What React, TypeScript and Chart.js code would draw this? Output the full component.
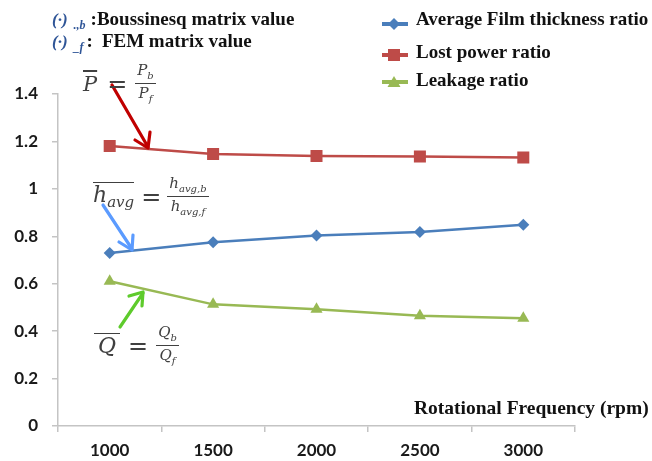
import React, { useEffect, useRef } from "react";
import { Chart, registerables } from "chart.js";

Chart.register(...registerables);

const rpmLabels = ["1000", "1500", "2000", "2500", "3000"];
const filmThicknessRatio = [0.73, 0.775, 0.803, 0.818, 0.849];
const lostPowerRatio = [1.181, 1.147, 1.139, 1.136, 1.132];
const leakageRatio = [0.61, 0.513, 0.492, 0.465, 0.454];
const seriesNames = ["Average Film thickness ratio", "Lost power ratio", "Leakage ratio"];
const seriesColors = ["#4a7ebb", "#be4b48", "#98b954"];
const yMin = 0;
const yMax = 1.4;
const yStep = 0.2;
const xAxisTitle = "Rotational Frequency (rpm)";

const serif = "'Liberation Serif', 'Times New Roman', serif";
const mathFont = "'DejaVu Serif', 'Liberation Serif', serif";

function Frac({ num, den, size = 12 }: { num: React.ReactNode; den: React.ReactNode; size?: number }) {
  return (
    <span style={{ display: "inline-flex", flexDirection: "column", alignItems: "center", fontSize: size, lineHeight: 1.0, verticalAlign: "middle" }}>
      <span style={{ padding: "0 2px 2px" }}>{num}</span>
      <span style={{ borderTop: "1.8px solid #404040", padding: "2px 2px 0", alignSelf: "stretch", textAlign: "center" }}>{den}</span>
    </span>
  );
}

function LegendSymbol({ color, shape }: { color: string; shape: string }) {
  let marker: React.ReactNode = null;
  if (shape === "rectRot") marker = <polygon points="13,1 19,7 13,13 7,7" fill={color} />;
  else if (shape === "rect") marker = <rect x={7} y={1} width={12} height={12} fill={color} />;
  else marker = <polygon points="13,1 19.5,12 6.5,12" fill={color} />;
  return (
    <svg width={28} height={14} style={{ display: "block" }}>
      <line x1={1} y1={7} x2={27} y2={7} stroke={color} strokeWidth={4} />
      {marker}
    </svg>
  );
}

export default function App() {
  const canvasRef = useRef<HTMLCanvasElement | null>(null);

  useEffect(() => {
    if (!canvasRef.current) return;
    const axisColor = "#c4c4c4";
    const tickFont = { family: "Lato, 'Open Sans', sans-serif", weight: "bold" as const, size: 17 };
    const chart = new Chart(canvasRef.current, {
      type: "line",
      data: {
        labels: rpmLabels,
        datasets: [
          {
            label: seriesNames[0],
            data: filmThicknessRatio,
            borderColor: seriesColors[0],
            backgroundColor: seriesColors[0],
            borderWidth: 2.5,
            pointStyle: "rectRot",
            pointRadius: 6,
            pointBorderWidth: 0,
          },
          {
            label: seriesNames[1],
            data: lostPowerRatio,
            borderColor: seriesColors[1],
            backgroundColor: seriesColors[1],
            borderWidth: 2.5,
            pointStyle: "rect",
            pointRadius: 8.5,
            pointBorderWidth: 0,
          },
          {
            label: seriesNames[2],
            data: leakageRatio,
            borderColor: seriesColors[2],
            backgroundColor: seriesColors[2],
            borderWidth: 2.5,
            pointStyle: "triangle",
            pointRadius: 7,
            pointBorderWidth: 0,
          },
        ],
      },
      options: {
        animation: false,
        responsive: false,
        layout: { padding: { left: 0, top: 94, right: 77, bottom: 0 } },
        plugins: { legend: { display: false }, tooltip: { enabled: false } },
        scales: {
          x: {
            type: "category",
            offset: true,
            grid: { display: true, offset: true, drawOnChartArea: false, drawTicks: true, tickLength: 6, color: axisColor, lineWidth: 1.5 },
            border: { color: axisColor, width: 1.5 },
            ticks: { font: tickFont, color: "#1a1a1a", padding: 8, maxRotation: 0 },
            afterFit: (s: any) => {
              s.height = 35;
            },
          },
          y: {
            min: yMin,
            max: yMax,
            grid: { display: true, drawOnChartArea: false, drawTicks: true, tickLength: 6, color: axisColor, lineWidth: 1.5 },
            border: { color: axisColor, width: 1.5 },
            ticks: {
              stepSize: yStep,
              font: tickFont,
              color: "#1a1a1a",
              padding: 14,
              callback: (v: any) => String(Math.round(Number(v) * 10) / 10),
            },
            afterFit: (s: any) => {
              s.width = 58;
            },
          },
        },
      },
    });
    return () => chart.destroy();
  }, []);

  const shapes = ["rectRot", "rect", "triangle"];
  const legendRows = [
    { textY: 19, symY: 24 },
    { textY: 52, symY: 55 },
    { textY: 80, symY: 82 },
  ];
  const mathStyle: React.CSSProperties = { fontFamily: mathFont, fontStyle: "italic", color: "#404040" };
  const noteStyle: React.CSSProperties = { position: "absolute", left: 52, fontFamily: serif, fontWeight: "bold", fontSize: 19, color: "#111", whiteSpace: "nowrap", lineHeight: "22px" };
  const dotStyle: React.CSSProperties = { fontStyle: "italic", color: "#2f5597", fontSize: 17, fontWeight: "bold" };
  const subStyle: React.CSSProperties = { fontStyle: "italic", color: "#2f5597", fontSize: 12, fontWeight: "bold", position: "relative", top: 4, marginLeft: 6 };

  return (
    <div style={{ position: "absolute", left: 0, top: 0, width: 652, height: 461, background: "#fff", overflow: "hidden" }}>
      <canvas ref={canvasRef} width={652} height={461} style={{ display: "block", position: "absolute", left: 0, top: 0 }} />

      {/* top-left notes */}
      <div style={{ ...noteStyle, top: 8 }}>
        <span style={dotStyle}>(·)</span>
        <span style={subStyle}>.,b</span>
        <span style={{ marginLeft: 5 }}>:Boussinesq matrix value</span>
      </div>
      <div style={{ ...noteStyle, top: 30 }}>
        <span style={dotStyle}>(·)</span>
        <span style={subStyle}>_f</span>
        <span style={{ marginLeft: 3 }}>:</span>
        <span style={{ marginLeft: 9 }}>FEM matrix value</span>
      </div>

      {/* legend */}
      {seriesNames.map((name, i) => (
        <React.Fragment key={name}>
          <div style={{ position: "absolute", left: 381, top: legendRows[i].symY - 7 }}>
            <LegendSymbol color={seriesColors[i]} shape={shapes[i]} />
          </div>
          <div style={{ position: "absolute", left: 416, top: legendRows[i].textY - 11, fontFamily: serif, fontWeight: "bold", fontSize: 19, lineHeight: "22px", color: "#111", whiteSpace: "nowrap" }}>
            {name}
          </div>
        </React.Fragment>
      ))}

      {/* x axis title */}
      <div style={{ position: "absolute", left: 414, top: 397, fontFamily: serif, fontWeight: "bold", fontSize: 19.5, lineHeight: "22px", color: "#111", whiteSpace: "nowrap" }}>
        {xAxisTitle}
      </div>

      {/* arrows */}
      <svg width={652} height={461} style={{ position: "absolute", left: 0, top: 0, pointerEvents: "none" }}>
        <g strokeWidth={3.2} fill="none" strokeLinecap="round" strokeLinejoin="round">
          <line x1={112} y1={85} x2={148} y2={147} stroke="#c00000" />
          <polyline points="135,140 148,148 150,132" stroke="#c00000" />
          <line x1={103} y1={205} x2={132} y2={249} stroke="#5b9bff" />
          <polyline points="119,242 132,250 133,235" stroke="#5b9bff" />
          <line x1={120} y1={327} x2={143} y2={293} stroke="#5ecb2c" />
          <polyline points="129,296 143,292 142,306" stroke="#5ecb2c" />
        </g>
      </svg>

      {/* formula: P bar */}
      <div style={{ position: "absolute", left: 83, top: 63, display: "flex", alignItems: "center", ...mathStyle }}>
        <span style={{ fontSize: 21, textDecoration: "overline", textDecorationThickness: "1.8px" }}>P</span>
        <span style={{ fontSize: 24, fontStyle: "normal", margin: "0 8px 0 10px" }}>=</span>
        <Frac size={15} num={<span>P<sub style={{ fontSize: 10 }}>b</sub></span>} den={<span>P<sub style={{ fontSize: 10 }}>f</sub></span>} />
      </div>

      {/* formula: h_avg */}
      <div style={{ position: "absolute", left: 93, top: 176, display: "flex", alignItems: "center", ...mathStyle }}>
        <span style={{ fontSize: 22, borderTop: "1.8px solid #404040", lineHeight: 1.05 }}>
          h<sub style={{ fontSize: 15 }}>avg</sub>
        </span>
        <span style={{ fontSize: 24, fontStyle: "normal", margin: "0 6px 0 7px" }}>=</span>
        <Frac
          size={15}
          num={<span>h<sub style={{ fontSize: 10 }}>avg,b</sub></span>}
          den={<span>h<sub style={{ fontSize: 10 }}>avg,f</sub></span>}
        />
      </div>

      {/* formula: Q bar */}
      <div style={{ position: "absolute", left: 94, top: 325, display: "flex", alignItems: "center", ...mathStyle }}>
        <span style={{ fontSize: 22, borderTop: "1.8px solid #404040", padding: "0 4px", lineHeight: 1.05 }}>Q</span>
        <span style={{ fontSize: 24, fontStyle: "normal", margin: "0 8px 0 8px" }}>=</span>
        <Frac size={15} num={<span>Q<sub style={{ fontSize: 10 }}>b</sub></span>} den={<span>Q<sub style={{ fontSize: 10 }}>f</sub></span>} />
      </div>
    </div>
  );
}
